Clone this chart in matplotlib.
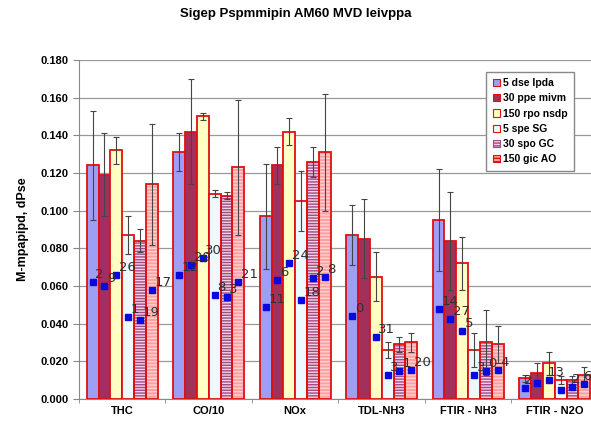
import numpy as np
import matplotlib
matplotlib.use("Agg")
import matplotlib.pyplot as plt
from matplotlib.patches import Patch

plt.rcParams['font.family'] = ['Liberation Sans', 'DejaVu Sans']

groups = ["THC", "CO/10", "NOx", "TDL-NH3", "FTIR - NH3", "FTIR - N2O"]
series_names = ["5 dse lpda", "30 ppe mivm", "150 rpo nsdp",
                "5 spe SG", "30 spo GC", "150 gic AO"]

# bar means per series (one value per group)
s1 = [0.124, 0.131, 0.097, 0.087, 0.095, 0.011]
s2 = [0.119, 0.142, 0.124, 0.085, 0.084, 0.014]
s3 = [0.132, 0.150, 0.142, 0.065, 0.072, 0.019]
s4 = [0.087, 0.109, 0.105, 0.026, 0.026, 0.010]
s5 = [0.084, 0.108, 0.126, 0.029, 0.030, 0.010]
s6 = [0.114, 0.123, 0.131, 0.030, 0.029, 0.013]

# error bar half-lengths
e1 = [0.029, 0.010, 0.028, 0.016, 0.027, 0.002]
e2 = [0.022, 0.028, 0.010, 0.021, 0.026, 0.005]
e3 = [0.007, 0.002, 0.007, 0.013, 0.014, 0.006]
e4 = [0.010, 0.002, 0.016, 0.004, 0.009, 0.002]
e5 = [0.006, 0.002, 0.008, 0.004, 0.017, 0.002]
e6 = [0.032, 0.036, 0.031, 0.005, 0.010, 0.004]

# blue point values and their labels
p1 = [0.062, 0.066, 0.049, 0.044, 0.048, 0.006]
p2 = [0.060, 0.071, 0.063, np.nan, 0.0425, 0.0085]
p3 = [0.066, 0.075, 0.072, 0.033, 0.036, 0.010]
p4 = [0.0435, 0.055, 0.0525, 0.0127, 0.013, 0.005]
p5 = [0.042, 0.054, 0.064, 0.015, 0.015, 0.0065]
p6 = [0.058, 0.062, 0.065, 0.0155, 0.0155, 0.008]

l1 = ["2", "12", "11", "0", "14", "2"]
l2 = ["9", "29", "6", "", "27", ""]
l3 = ["26", "30", "24", "31", "5", "13"]
l4 = ["1", "8", "18", "3", "3", ""]
l5 = ["19", "3", "2", "1", "0", "2"]
l6 = ["17", "21", "8", "20", "4", "6"]

means = [s1, s2, s3, s4, s5, s6]
errs = [e1, e2, e3, e4, e5, e6]
points = [p1, p2, p3, p4, p5, p6]
labels = [l1, l2, l3, l4, l5, l6]

fills = ['#9E9EF5', '#A2305C', '#FFFFC4', '#EEF9FF', '#F4D4E2', '#FFA0A0']
hatches = [None, None, None, None, '------', '-----']
hatch_cols = [None, None, None, None, '#A04A88', '#FFD2D2']
edge = '#E01010'

fig = plt.figure(figsize=(5.91, 4.24), dpi=100)
ax = fig.add_axes([0.1337, 0.059, 0.878, 0.7995])

x = np.arange(len(groups))
w = 0.137

for k in range(6):
    xs = x + (k - 2.5) * w
    if hatches[k]:
        ax.bar(xs, means[k], w, color=fills[k], edgecolor=hatch_cols[k],
               hatch=hatches[k], linewidth=0, zorder=2)
        ax.bar(xs, means[k], w, fill=False, edgecolor=edge, linewidth=1.3, zorder=3)
    else:
        ax.bar(xs, means[k], w, color=fills[k], edgecolor=edge, linewidth=1.3, zorder=3)
    ax.errorbar(xs, means[k], yerr=errs[k], fmt='none', ecolor='#444444',
                elinewidth=0.8, capsize=2, capthick=0.8, zorder=4)

for k in range(6):
    xs = x + (k - 2.5) * w
    ax.plot(xs, points[k], 's', color='#0A0AE0', markersize=4.5,
            linestyle='none', zorder=5)
    for g, (xi, yi, t) in enumerate(zip(xs, points[k], labels[k])):
        if t and not np.isnan(yi):
            dx = 0.03 if g < 5 else -0.01
            ax.text(xi + dx, yi + 0.0005, t, fontsize=9.5, color='#303030',
                    family='DejaVu Sans', va='bottom', ha='left', zorder=6)

ax.set_xlim(-0.5, 5.5)
ax.set_ylim(0, 0.18)
ax.set_yticks(np.arange(0, 0.1801, 0.02))
ax.set_yticklabels([f"{v:.3f}" for v in np.arange(0, 0.1801, 0.02)],
                   fontsize=8, fontweight='bold')
ax.set_xticks(x)
ax.set_xticklabels(groups, fontsize=8, fontweight='bold')
ax.tick_params(axis='x', length=0, pad=5)
ax.set_xticks(np.arange(-0.5, 5.6, 1), minor=True)
ax.tick_params(axis='x', which='minor', length=3, color='#888888')
ax.tick_params(axis='y', length=4, color='#888888')
ax.yaxis.grid(True, color='#999999', linewidth=0.9)
ax.set_axisbelow(True)
for side in ['top', 'right']:
    ax.spines[side].set_visible(False)
for side in ['left', 'bottom']:
    ax.spines[side].set_color('#888888')

ax.set_ylabel("M-mpapipd, dPse", fontsize=9, fontweight='bold', labelpad=8)
fig.suptitle("Sigep Pspmmipin AM60 MVD leivppa", x=0.5, y=0.98,
             fontsize=9.5, fontweight='bold')

handles = []
for k in range(6):
    handles.append(Patch(facecolor=fills[k], edgecolor=edge if k != 4 else '#A04A88',
                         hatch=hatches[k], linewidth=0.8))
leg = ax.legend(handles, series_names, loc='upper left', bbox_to_anchor=(0.775, 0.98),
                prop={'size': 7.5, 'weight': 'bold'}, handlelength=0.7, handleheight=0.7,
                handletextpad=0.3, labelspacing=0.5, borderpad=0.6, fancybox=False,
                framealpha=1, edgecolor='#888888')

fig.savefig("out.png", dpi=100)
